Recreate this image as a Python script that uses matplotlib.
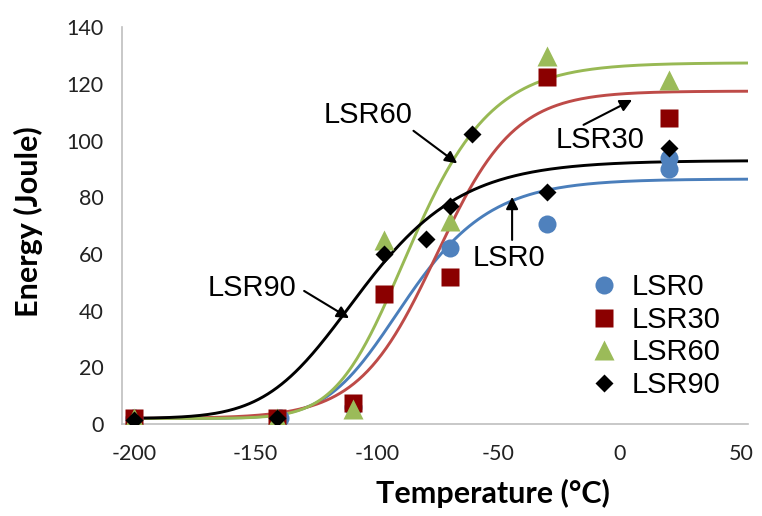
import numpy as np
import matplotlib
matplotlib.use("Agg")
import matplotlib.pyplot as plt

# ---- data ----
T_LSR0 = [-200, -140, -110, -70, -30, 20, 20]
E_LSR0 = [2, 2, 6, 62, 70.5, 94, 90]
T_LSR30 = [-200, -141, -110, -97, -70, -30, 20]
E_LSR30 = [2, 2, 7.5, 46, 52, 122.5, 108]
T_LSR60 = [-200, -141, -110, -97, -70, -30, 20]
E_LSR60 = [2, 2, 5.5, 65, 71.5, 130, 121.5]
T_LSR90 = [-200, -141, -97, -80, -70, -61, -30, 20]
E_LSR90 = [1.5, 2, 60, 65.5, 77, 102.5, 82, 97.5]

# fitted transition-curve parameters: lower shelf, upper shelf, T0, width, shape
FIT_LSR0 = [2, 86.5, -111, 20.5, 2.5]
FIT_LSR30 = [2, 117.5, -75.5, 16.0, 1.0]
FIT_LSR60 = [2, 127.5, -107.5, 19.5, 2.5]
FIT_LSR90 = [2, 93.0, -134, 24.5, 2.5]

x_ticks = [-200, -150, -100, -50, 0, 50]
y_ticks = [0, 20, 40, 60, 80, 100, 120, 140]


def fit_curve(T, A, B, T0, C, p):
    return A + (B - A) * (1 + np.exp(-(T - T0) / C)) ** (-p)


fig = plt.figure(figsize=(7.62, 5.16), dpi=100)
ax = fig.add_axes([0.160, 0.178, 0.821, 0.769])

Tc = np.linspace(-200, 52.5, 400)
line_cols = {"LSR0": "#4A7EBB", "LSR30": "#BE4B48", "LSR60": "#98B954", "LSR90": "#000000"}
for name, prm in [("LSR0", FIT_LSR0), ("LSR30", FIT_LSR30), ("LSR60", FIT_LSR60), ("LSR90", FIT_LSR90)]:
    ax.plot(Tc, fit_curve(Tc, *prm), color=line_cols[name], lw=2.1, zorder=2)

ax.plot(T_LSR0, E_LSR0, 'o', ms=13, color="#4F81BD", mec="none", label="LSR0", zorder=3)
ax.plot(T_LSR30, E_LSR30, 's', ms=12.5, color="#8B0000", mec="none", label="LSR30", zorder=4)
ax.plot(T_LSR60, E_LSR60, '^', ms=14, color="#9BBB59", mec="none", label="LSR60", zorder=5)
ax.plot(T_LSR90, E_LSR90, 'D', ms=9.5, color="#000000", mec="none", label="LSR90", zorder=6)

ax.set_xlim(-205, 52.5)
ax.set_ylim(0, 140)
ax.set_xticks(x_ticks)
ax.set_yticks(y_ticks)
ax.set_xticklabels([str(v) for v in x_ticks])
ax.tick_params(length=0, labelsize=15.5, colors="#222222")
ax.tick_params(axis='x', pad=14)
ax.tick_params(axis='y', pad=13)
for lab in ax.get_xticklabels() + ax.get_yticklabels():
    lab.set_family("Lato")
for s in ["top", "right"]:
    ax.spines[s].set_visible(False)
for s in ["left", "bottom"]:
    ax.spines[s].set_color("#BFBFBF")
    ax.spines[s].set_linewidth(1.2)

fig.text(493 / 762, 1 - 493 / 516, "Temperature (°C)", fontsize=22, fontweight="bold",
         family="Lato", ha="center", va="center")
fig.text(28 / 762, 1 - 222 / 516, "Energy (Joule)", fontsize=22, fontweight="bold",
         family="Lato", ha="center", va="center", rotation=90)

af = dict(fontsize=21, family="Liberation Sans", ha="center", va="center")
ap = dict(arrowstyle="-|>", color="black", lw=1.5, mutation_scale=18, shrinkA=0, shrinkB=0)
ax.annotate("", xy=(-67, 92), xytext=(-85, 103.5), arrowprops=ap)
ax.text(-103.7, 109, "LSR60", **af)
ax.annotate("", xy=(5, 114.4), xytext=(-15, 105.6), arrowprops=ap)
ax.text(-8, 100.3, "LSR30", **af)
ax.annotate("", xy=(-44.4, 80.2), xytext=(-44.4, 65), arrowprops=ap)
ax.text(-45.7, 58.6, "LSR0", **af)
ax.annotate("", xy=(-111.5, 37.4), xytext=(-130, 47), arrowprops=ap)
ax.text(-151.4, 48, "LSR90", **af)

leg = ax.legend(loc="upper left", bbox_to_anchor=(0.728, 0.410), frameon=False,
                prop={"family": "Liberation Sans", "size": 21}, handletextpad=0.45,
                labelspacing=0.16, handlelength=1.0, borderaxespad=0)

fig.savefig("out.png", dpi=100)
